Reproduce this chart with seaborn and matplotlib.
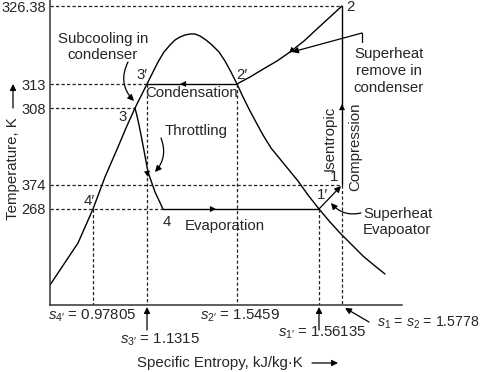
import matplotlib
matplotlib.use("Agg")
import matplotlib.pyplot as plt
import seaborn as sns

temp_labels = ["326.38", "313", "308", "374", "268"]
temp_levels = [6, 84, 108, 185, 209]

# state points of the cycle
s_1, T_1 = 342, 185
s_1p, T_1p = 319, 209
s_2, T_2 = 342, 6
s_2p, T_2p = 237, 84
s_3, T_3 = 135, 108
s_3p, T_3p = 147, 84
s_4, T_4 = 163, 209
s_4p, T_4p = 93, 209

# saturation dome
dome_s = [50, 64, 78, 93, 105, 118, 126, 135, 141, 147, 153, 158, 164, 170, 175, 180, 185, 190,
          195, 200, 206, 212, 219, 225, 231, 237, 243, 250, 257, 263, 271, 280, 289, 298, 308,
          319, 330, 340, 352, 363, 375, 385]
dome_T = [285, 264, 243, 209, 177, 147, 128, 108, 96, 84, 72, 62, 52, 45, 40, 37, 35, 34,
          34, 36, 40, 45, 52, 61, 72, 84, 97, 111, 124, 135, 148, 159, 170, 181, 195,
          209, 222, 233, 245, 256, 266, 274]

# superheat removal 2 -> 2'
sh_s = [342, 330, 318, 304, 290, 277, 265, 250, 237]
sh_T = [6, 17, 28, 41, 52, 61, 68, 77, 84]

# throttling 3 -> 4
th_s = [135, 137, 139, 142, 145, 148, 155, 163]
th_T = [108, 116, 125, 140, 156, 172, 192, 209]

sns.set_style("white")
plt.rcParams["font.family"] = ["Liberation Sans", "DejaVu Sans"]
plt.rcParams["mathtext.fontset"] = "custom"
plt.rcParams["mathtext.rm"] = "Liberation Sans"
plt.rcParams["mathtext.it"] = "Liberation Sans:italic"

fig = plt.figure(figsize=(4.81, 3.72), dpi=100)
ax = fig.add_axes([50 / 481, 67 / 372, 352 / 481, 305 / 372])
ax.set_xlim(50, 402)
ax.set_ylim(305, 0)

lw = 1.0
sns.lineplot(x=dome_s, y=dome_T, sort=False, estimator=None, color="black", lw=lw, ax=ax)
sns.lineplot(x=sh_s, y=sh_T, sort=False, estimator=None, color="black", lw=lw, ax=ax)
sns.lineplot(x=th_s, y=th_T, sort=False, estimator=None, color="black", lw=lw, ax=ax)

# cycle straight lines
ax.plot([s_2p, s_3p], [T_2p, T_3p], color="black", lw=lw)
ax.plot([s_4, s_1p], [T_4, T_1p], color="black", lw=lw)
ax.plot([s_1, s_2], [T_1, T_2], color="black", lw=lw)

# dashed guide lines
dash = dict(color="#222222", lw=0.9, linestyles=(0, (2.6, 1.8)))
ax.hlines(T_2, 50, s_2, **dash)
ax.hlines(T_3p, 50, s_3p, **dash)
ax.hlines(T_3, 50, s_3, **dash)
ax.hlines(T_1, 50, s_1, **dash)
ax.hlines(T_4p, 50, s_4, **dash)
for s, T in [(s_4p, T_4p), (s_3p, T_3p), (s_2p, T_2p), (s_1p, T_1p), (s_1, T_1)]:
    ax.vlines(s, T, 305, **dash)

def head(xy, frm):
    ax.annotate("", xy=xy, xytext=frm, arrowprops=dict(arrowstyle="-|>", color="black", lw=0,
                shrinkA=0, shrinkB=0, mutation_scale=11), annotation_clip=False)

def pointer(xy, frm, rad=0.0):
    ax.annotate("", xy=xy, xytext=frm, annotation_clip=False,
                arrowprops=dict(arrowstyle="-|>", color="black", lw=0.9, shrinkA=0, shrinkB=0,
                                mutation_scale=9, connectionstyle=f"arc3,rad={rad}"))

# arrows along the cycle
head((180, T_3p), (192, T_3p))
head((216, T_4), (204, T_4))
head((s_1, 104), (s_1, 116))
head((289, 53), (298, 45))
head((148, 177), (146, 165))
pointer((s_1 - 1, T_1 + 1), (s_1p, T_1p))

# annotation arrows
ax.plot([362, 362], [33, 42], color="black", lw=0.9, clip_on=False)
pointer((292, 52), (362, 33))
pointer((134, 101), (128, 62), rad=0.35)
pointer((155, 172), (161, 138), rad=-0.3)
pointer((331, 203), (361, 213), rad=-0.3)
pointer((s_3p, 307), (s_3p, 330))
pointer((s_1p, 307), (s_1p, 330))
pointer((345, 308), (369, 322))

# y tick labels
ax.set_xticks([])
ax.set_yticks(temp_levels)
ax.set_yticklabels(temp_labels, fontsize=10.5)
ax.tick_params(axis="y", length=0, pad=3)

# state labels
fs = 10.8
ax.text(346, 7, "2", fontsize=fs, va="center")
ax.text(242, 75, "2′", fontsize=fs, ha="center", va="center")
ax.text(142, 75, "3′", fontsize=fs, ha="center", va="center")
ax.text(123, 117, "3", fontsize=fs, ha="center", va="center")
ax.text(89, 201, "4′", fontsize=fs, ha="center", va="center")
ax.text(167, 222, "4", fontsize=fs, ha="center", va="center")
ax.text(323, 195, "1′", fontsize=fs, ha="center", va="center")
ax.text(334, 177, "1", fontsize=fs, ha="center", va="center")

# process labels
ax.text(192, 93, "Condensation", fontsize=fs, ha="center", va="center")
ax.text(196, 131, "Throttling", fontsize=fs, ha="center", va="center")
ax.text(185, 226, "Evaporation", fontsize=fs, ha="left", va="center")
ax.text(330, 138, "Isentropic", fontsize=fs, ha="center", va="center", rotation=90)
ax.text(355, 147, "Compression", fontsize=fs, ha="center", va="center", rotation=90)
ax.text(389, 71, "Superheat\nremove in\ncondenser", fontsize=fs, ha="center", va="center",
        linespacing=1.25, clip_on=False)
ax.text(103, 47, "Subcooling in\ncondenser", fontsize=fs, ha="center", va="center", linespacing=1.25)
ax.text(363, 222, "Superheat\nEvapoator", fontsize=fs, ha="left", va="center", linespacing=1.25,
        clip_on=False)

# entropy labels under the axis
ax.text(48, 316, r"$s_{4\prime}$ = 0.97805", fontsize=fs, va="center", clip_on=False)
ax.text(120, 340, r"$s_{3\prime}$ = 1.1315", fontsize=fs, va="center", clip_on=False)
ax.text(200, 316, r"$s_{2\prime}$ = 1.5459", fontsize=fs, va="center", clip_on=False)
ax.text(278, 333, r"$s_{1\prime}$ = 1.56135", fontsize=fs, va="center", clip_on=False)
ax.text(479, 323, r"$s_1$ = $s_2$ = 1.5778", fontsize=10.2, ha="right", va="center",
        clip_on=False)

# axis titles with arrows
ax.text(137, 363, "Specific Entropy, kJ/kg·K", fontsize=fs, va="center", clip_on=False)
pointer((338, 363), (312, 363))
ax.text(13, 169, "Temperature, K", fontsize=fs, ha="center", va="center", rotation=90,
        clip_on=False)
pointer((13, 84), (13, 108))

sns.despine(ax=ax)
for side in ["left", "bottom"]:
    ax.spines[side].set_color("#333333")
    ax.spines[side].set_linewidth(1.1)

fig.savefig("out.png", dpi=100)
